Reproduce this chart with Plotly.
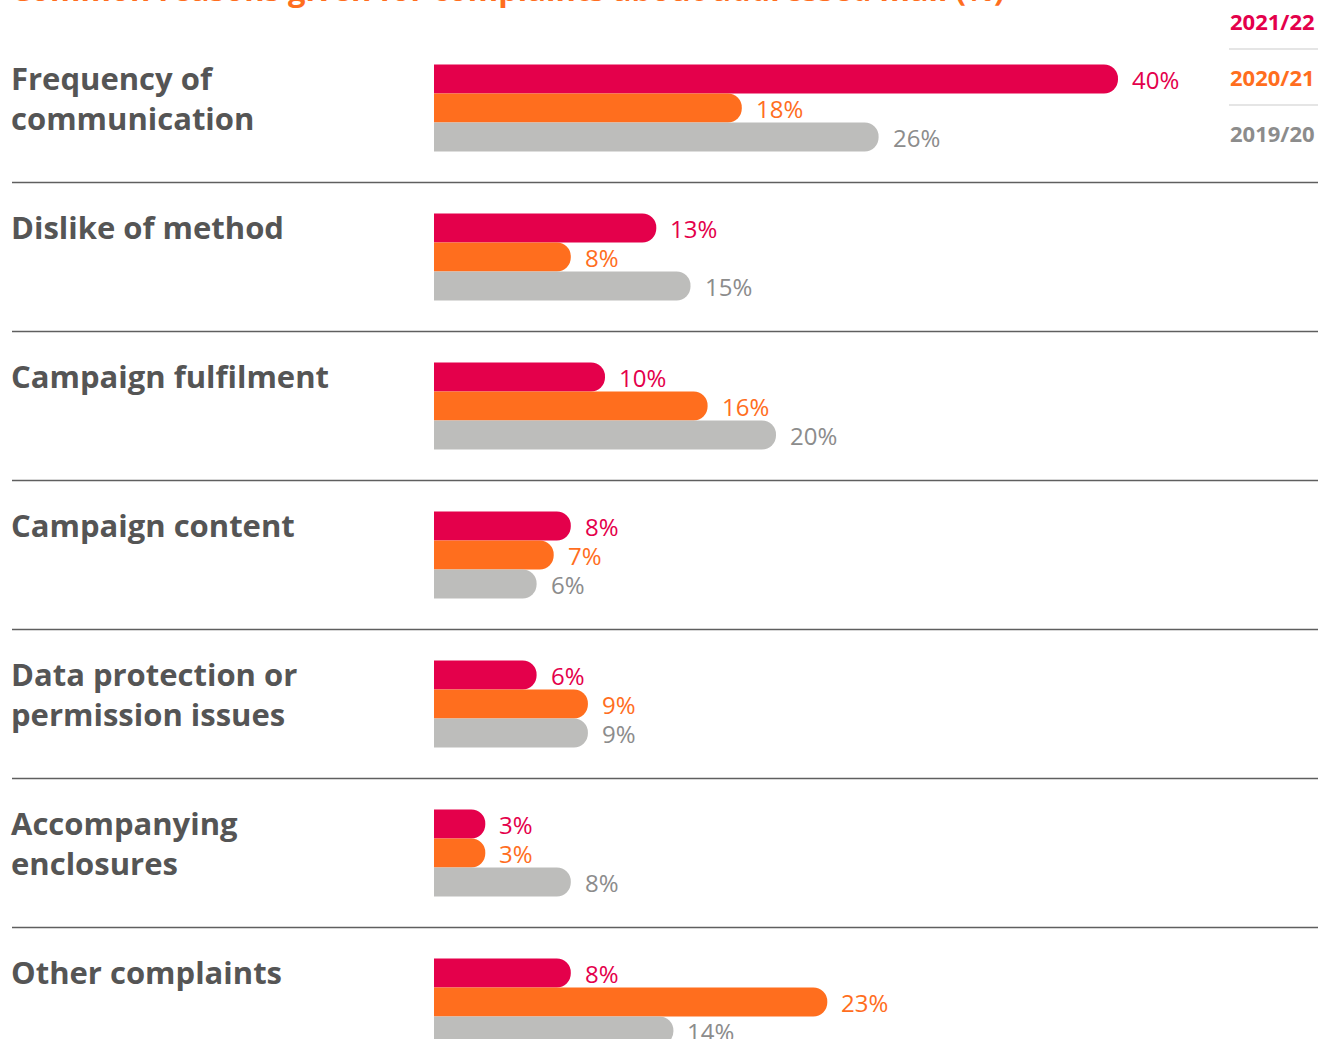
import plotly.graph_objects as go

# Complaint reasons (top to bottom) and the share for each survey year
categories = [
    "Frequency of<br>communication",
    "Dislike of method",
    "Campaign fulfilment",
    "Campaign content",
    "Data protection or<br>permission issues",
    "Accompanying<br>enclosures",
    "Other complaints",
]
years = ["2021/22", "2020/21", "2019/20"]
values_2021_22 = [40, 13, 10, 8, 6, 3, 8]
values_2020_21 = [18, 8, 16, 7, 9, 3, 23]
values_2019_20 = [26, 15, 20, 6, 9, 8, 14]

bar_colors = ["#E4004B", "#FF6E1E", "#BDBDBB"]
label_colors = ["#E4004B", "#FF6E1E", "#8C8C8C"]
series = [values_2021_22, values_2020_21, values_2019_20]

W, H = 1318, 1039
FONT = "Open Sans"
positions = list(range(len(categories)))
bar_w = 29 / 149  # single bar thickness in category units

fig = go.Figure()
for name, vals, col in zip(years, series, bar_colors):
    fig.add_trace(go.Bar(
        y=positions, x=vals, name=name, orientation="h",
        marker=dict(color=col, cornerradius="50%", line=dict(width=0)),
        hoverinfo="skip",
    ))

annotations = []
# value labels at the end of each bar
for k, (vals, col) in enumerate(zip(series, label_colors)):
    for i, v in enumerate(vals):
        annotations.append(dict(
            x=v, y=i + (k - 1) * bar_w, xref="x", yref="y",
            text=f"{v}%", showarrow=False, xanchor="left", yanchor="middle",
            xshift=13, yshift=0, borderpad=0,
            font=dict(family=FONT, size=24, color=col),
        ))

# category names on the left
for i, cat in enumerate(categories):
    annotations.append(dict(
        x=9 / W, y=i - 1.5 * bar_w, xref="paper", yref="y",
        text=f"<b>{cat}</b>", showarrow=False, xanchor="left", yanchor="top",
        align="left", yshift=10,
        font=dict(family=FONT, size=31, color="#555555"),
    ))

# year key in the top-right corner
for k, (yr, col) in enumerate(zip(years, label_colors)):
    annotations.append(dict(
        x=1317 / W, y=1 - (21 + 56 * k) / H, xref="paper", yref="paper",
        text=f"<b>{yr}</b>", showarrow=False, xanchor="right", yanchor="middle",
        font=dict(family=FONT, size=22, color=col),
    ))

# chart title
annotations.append(dict(
    x=9 / W, y=1 + 11 / H, xref="paper", yref="paper",
    text="<b>Common reasons given for complaints about addressed mail (%)</b>",
    showarrow=False, xanchor="left", yanchor="middle",
    font=dict(family=FONT, size=31, color="#FF6E1E"),
))

shapes = []
for i in range(len(categories) - 1):
    shapes.append(dict(
        type="line", xref="paper", yref="y",
        x0=12 / W, x1=1, y0=i + 0.5, y1=i + 0.5,
        line=dict(color="#5F5F5F", width=1.3),
    ))
for py in (49, 105):
    shapes.append(dict(
        type="line", xref="paper", yref="paper",
        x0=1229 / W, x1=1, y0=1 - py / H, y1=1 - py / H,
        line=dict(color="#DDDDDD", width=1.5),
    ))

px_per_unit = 17.1
x0_px = 434
fig.update_layout(
    width=W, height=H,
    margin=dict(l=0, r=0, t=0, b=0),
    paper_bgcolor="white", plot_bgcolor="white",
    barmode="group", bargap=1 - 3 * bar_w, bargroupgap=0,
    showlegend=False,
    xaxis=dict(range=[-x0_px / px_per_unit, (W - x0_px) / px_per_unit],
               visible=False, fixedrange=True),
    yaxis=dict(range=[6 + 37 / 149, -108 / 149], visible=False, fixedrange=True),
    annotations=annotations,
    shapes=shapes,
)

fig.write_html("out.html")
